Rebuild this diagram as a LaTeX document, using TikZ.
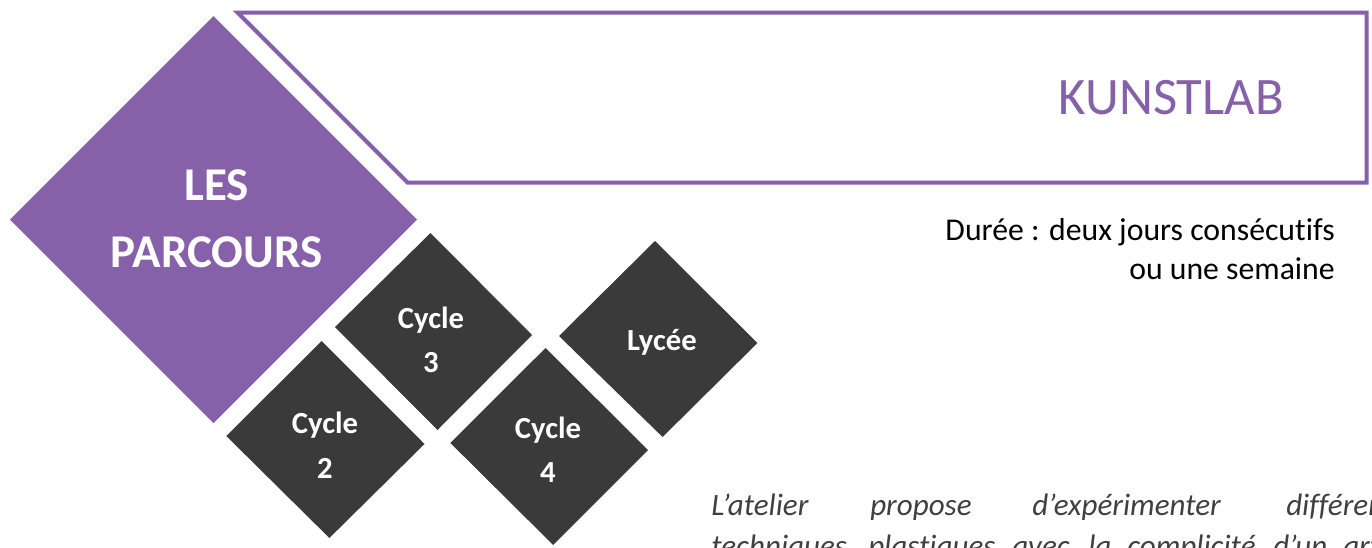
\documentclass[tikz,border=0pt]{standalone}
\usepackage{fontspec}
\setmainfont{Carlito}[Ligatures={NoCommon}]
\definecolor{violetk}{HTML}{8660A8}
\definecolor{darkd}{HTML}{3A3A3A}
\definecolor{greytxt}{HTML}{404040}
\begin{document}
\begin{tikzpicture}[x=0.75pt,y=-0.75pt,
  diam/.style={fill=darkd},
  celltxt/.style={text=white,font=\fontsize{23}{27}\selectfont\bfseries,anchor=base,inner sep=0pt},
  bigtxt/.style={text=white,font=\fontsize{35.25}{42}\selectfont\bfseries,anchor=base,inner sep=0pt},
  itxt/.style={text=greytxt,font=\fontsize{23.3}{28}\selectfont\itshape,anchor=base west,inner sep=0pt},
  dtxt/.style={text=black,font=\fontsize{23.8}{29}\selectfont,inner sep=0pt,anchor=base east}
]
\path[use as bounding box, clip] (0,0) rectangle (1372,547);
\fill[white] (0,0) rectangle (1372,547);
% banner outline
\draw[violetk,line width=3pt] (237.5,12.5) -- (1366.5,12.5) -- (1366.5,182.5) -- (407.5,182.5) -- cycle;
\node[text=violetk,font=\fontsize{39.5}{46}\selectfont,anchor=base east,inner sep=0pt] (title) at (1284,114) {KUNSTLAB};
% purple diamond
\fill[violetk] (213.5,16) -- (417,219.5) -- (213.5,423) -- (10,219.5) -- cycle;
\node[bigtxt] (les) at (216.5,200) {LES};
\node[bigtxt] (parcours) at (216.5,267) {PARCOURS};
% dark diamonds
\fill[diam] (430.5,233) -- (532,335) -- (437.5,430) -- (335,327) -- cycle;
\fill[diam] (321.7,341) -- (424.5,444) -- (329.4,538) -- (226.3,436) -- cycle;
\fill[diam] (545.5,348) -- (648,450) -- (553.2,545) -- (450.4,443) -- cycle;
\fill[diam] (655,241) -- (757.4,343) -- (662.6,437) -- (559,336) -- cycle;
\node[celltxt] (c3a) at (431,328) {Cycle};
\node[celltxt] (c3b) at (431,372) {3};
\node[celltxt] (c2a) at (325,433) {Cycle};
\node[celltxt] (c2b) at (325,478) {2};
\node[celltxt] (c4a) at (548,438) {Cycle};
\node[celltxt] (c4b) at (548,482) {4};
\node[celltxt] (lyc) at (662,350) {Lycée};
% duration
\node[dtxt] (dur1) at (1335,240) {Durée : deux jours consécutifs};
\node[dtxt] (dur2) at (1335,279) {ou une semaine};
% italic paragraph
\node[itxt] (w1) at (711,515) {L’atelier};
\node[itxt] (w2) at (870,515) {propose};
\node[itxt] (w3) at (1032,515) {d’expérimenter};
\node[itxt] (w4) at (1286,515) {différents};
\node[itxt] (v1) at (711,556) {techniques};
\node[itxt] (v2) at (868,556) {plastiques};
\node[itxt] (v3) at (1012,556) {avec};
\node[itxt] (v4) at (1088,556) {la};
\node[itxt] (v5) at (1127,556) {complicité};
\node[itxt] (v6) at (1273,556) {d’un};
\node[itxt] (v7) at (1343,556) {artiste};
\end{tikzpicture}
\end{document}
